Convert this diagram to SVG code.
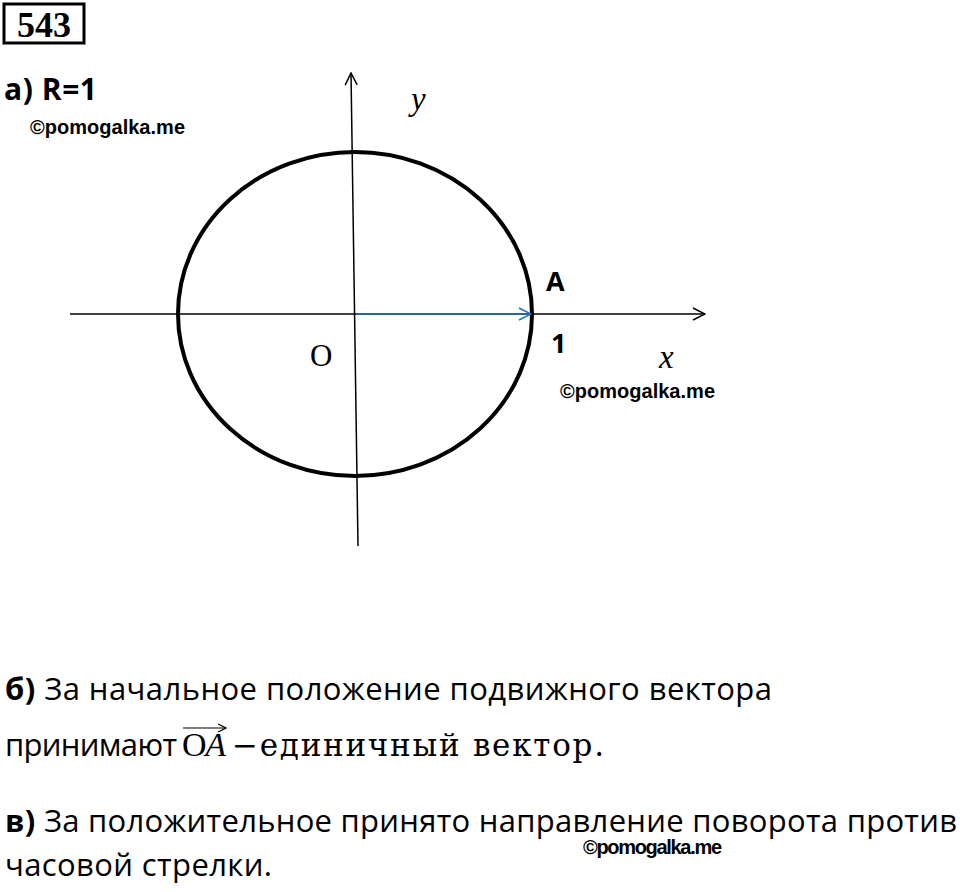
<svg xmlns="http://www.w3.org/2000/svg" width="960" height="892" viewBox="0 0 960 892">
<style>
.ax{stroke:#000;stroke-width:1.5;fill:none}
.wm{font-family:"Liberation Sans",Arial,sans-serif;font-weight:bold;font-size:20px;fill:#000}
.t{font-family:"Open Sans","Noto Sans",sans-serif;font-size:31px;fill:#000}
.s{font-family:"Liberation Serif","DejaVu Serif",serif;fill:#000}
.ds{font-family:"DejaVu Serif","Liberation Serif",serif;fill:#000}
.b{font-family:"Open Sans","Noto Sans",sans-serif;font-weight:bold;fill:#000}
</style>
<defs>
<marker id="ah" markerWidth="14" markerHeight="14" refX="13" refY="7" orient="auto" markerUnits="userSpaceOnUse"><path d="M1,1 L13,7 L1,13" fill="none" stroke="#000" stroke-width="1.5"/></marker>
<marker id="ahb" markerWidth="14" markerHeight="14" refX="13" refY="7" orient="auto" markerUnits="userSpaceOnUse"><path d="M1,1 L13,7 L1,13" fill="none" stroke="#1f6fc0" stroke-width="1.5"/></marker>
<marker id="ahs" markerWidth="10" markerHeight="10" refX="9" refY="5" orient="auto" markerUnits="userSpaceOnUse"><path d="M1,1 L9,5 L1,9" fill="none" stroke="#000" stroke-width="1.2"/></marker>
</defs>
<g id="title">
<rect x="4" y="4" width="80" height="39" fill="none" stroke="#000" stroke-width="3"/>
<text x="44" y="37" text-anchor="middle" class="s" font-weight="bold" font-size="36">543</text>
</g>
<text x="4" y="100" class="b" font-size="30" textLength="93">а) R=1</text>
<text x="30" y="134" class="wm" textLength="155">©pomogalka.me</text>
<g id="circle"><ellipse cx="355" cy="314" rx="177" ry="162" fill="none" stroke="#000" stroke-width="4"/></g>
<g id="connectors">
<line x1="70" y1="314" x2="705" y2="314" class="ax" marker-end="url(#ah)"/>
<line x1="358" y1="546" x2="351" y2="73" class="ax" marker-end="url(#ah)"/>
<line x1="356" y1="314" x2="531" y2="314" stroke="#1f6fc0" stroke-width="1.5" marker-end="url(#ahb)"/>
</g>
<text x="411" y="110" class="s" font-style="italic" font-size="33">y</text>
<text x="310" y="366" class="s" font-size="31">O</text>
<text x="546" y="291" class="b" font-size="27">A</text>
<text x="551" y="353" class="b" font-size="27">1</text>
<text x="659" y="368" class="s" font-style="italic" font-size="33">x</text>
<text x="560" y="398" class="wm" textLength="155">©pomogalka.me</text>
<text x="5" y="700" class="t" textLength="767"><tspan font-weight="bold">б)</tspan> За начальное положение подвижного вектора</text>
<text x="5" y="756" class="t" textLength="172">принимают</text>
<text x="182" y="756" class="s" font-size="34" textLength="44">O<tspan font-style="italic">A</tspan></text>
<line x1="183" y1="728" x2="226" y2="728" stroke="#000" stroke-width="1.2" marker-end="url(#ahs)"/>
<text x="232" y="756" class="ds" font-size="31" textLength="372">−единичный вектор.</text>
<text x="5" y="832" class="t" textLength="952"><tspan font-weight="bold">в)</tspan> За положительное принято направление поворота против</text>
<text x="583" y="854" class="wm" font-size="18" textLength="139">©pomogalka.me</text>
<text x="5" y="876" class="t" textLength="267">часовой стрелки.</text>
</svg>
